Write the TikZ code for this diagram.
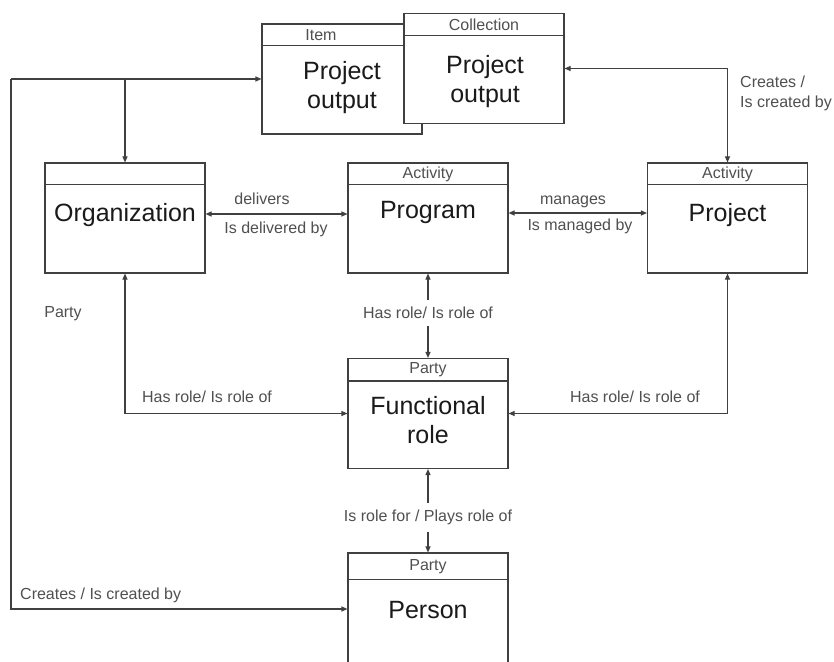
\documentclass[tikz,border=0pt]{standalone}
\usepackage{fontspec}
\setmainfont{Liberation Sans}
\usetikzlibrary{arrows.meta}
\definecolor{linec}{HTML}{404040}
\definecolor{smalltxt}{HTML}{505050}
\definecolor{bigtxt}{HTML}{1A1A1A}
\tikzset{
  box/.style={draw=linec, fill=white, line width=1.1bp, minimum width=160bp, minimum height=110bp, inner sep=0pt},
  hdr/.style={text=smalltxt, font=\fontsize{16bp}{19bp}\selectfont, inner sep=0pt},
  big/.style={text=bigtxt, font=\fontsize{25bp}{29bp}\selectfont, align=center, inner sep=0pt},
  lbl/.style={text=smalltxt, font=\fontsize{16bp}{20bp}\selectfont, inner sep=0pt},
  conn/.style={draw=linec, line width=1.1bp},
  tip/.style={-{Triangle[length=6bp,width=5bp]}},
  tips/.style={{Triangle[length=6bp,width=5bp]}-{Triangle[length=6bp,width=5bp]}},
  hline/.style={draw=linec, line width=1.1bp}
}
\begin{document}
\begin{tikzpicture}[x=1bp,y=-1bp]
\useasboundingbox (0,0) rectangle (834,662);
\fill[white] (0,0) rectangle (834,662);
\clip (0,0) rectangle (834,662);

% boxes
\node[box] (item) at (342,79) {};
\draw[hline] ([yshift=-22bp]item.north west) -- ([yshift=-22bp]item.north east);
\node[hdr] (itemh) at (321,35) {Item};
\node[big] (itemt) at (342,88) {Project\\output};

\node[box] (coll) at (484,68.5) {};
\draw[hline] ([yshift=-23bp]coll.north west) -- ([yshift=-23bp]coll.north east);
\node[hdr] (collh) at (484,24.5) {Collection};
\node[big] (collt) at (485,82) {Project\\output};

\node[box] (org) at (125,218) {};
\draw[hline] ([yshift=-22bp]org.north west) -- ([yshift=-22bp]org.north east);
\node[big] (orgt) at (125,215) {Organization};

\node[box] (prog) at (428,218) {};
\draw[hline] ([yshift=-22bp]prog.north west) -- ([yshift=-22bp]prog.north east);
\node[hdr] (progh) at (428,174) {Activity};
\node[big] (progt) at (428,212) {Program};

\node[box] (proj) at (727.5,218) {};
\draw[hline] ([yshift=-22bp]proj.north west) -- ([yshift=-22bp]proj.north east);
\node[hdr] (projh) at (727.5,174) {Activity};
\node[big] (projt) at (727.5,215) {Project};

\node[box] (fr) at (428,413.5) {};
\draw[hline] ([yshift=-23bp]fr.north west) -- ([yshift=-23bp]fr.north east);
\node[hdr] (frh) at (428,370) {Party};
\node[big] (frt) at (428,420) {Functional\\role};

\node[box, minimum height=150bp] (person) at (428,628) {};
\draw[hline] ([yshift=-27bp]person.north west) -- ([yshift=-27bp]person.north east);
\node[hdr] (personh) at (428,567) {Party};
\node[big] (persont) at (428,610) {Person};

% left loop connectors
\coordinate (tl) at (11,79);
\coordinate (bl) at (11,609);
\coordinate (br) at (125,79);
\draw[conn, tip] (tl) -- (item.west);
\draw[conn, tip] (br) -- (org.north);
\draw[conn, tip] (tl) -- (bl) -- (bl -| person.west);
\node[lbl, anchor=west] (lcreate) at (20,595) {Creates / Is created by};

% collection - project
\draw[conn, tips] (coll.east) -| (proj.north);
\node[lbl, anchor=west, align=left] (rcreate) at (740,93) {Creates /\\Is created by};

% org - program
\draw[conn, tips] (org.east |- 0,214) -- (prog.west |- 0,214);
\node[lbl] (deliv) at (262,199) {delivers};
\node[lbl] (delivby) at (276,229) {Is delivered by};

% program - project
\draw[conn, tips] (prog.east |- 0,213) -- (proj.west |- 0,213);
\node[lbl] (manag) at (573,202) {manages};
\node[lbl] (managby) at (580,226) {Is managed by};

% program - functional role
\draw[conn, tips] (prog.south) -- node[lbl, fill=white, inner ysep=7bp, pos=0.47] (hr1) {Has role/ Is role of} (fr.north);

% org - functional role
\draw[conn, tips] (org.south) |- (fr.west);
\node[lbl] (hr2) at (207,397) {Has role/ Is role of};

% project - functional role
\draw[conn, tips] (proj.south) |- (fr.east);
\node[lbl] (hr3) at (635,397) {Has role/ Is role of};

% functional role - person
\draw[conn, tips] (fr.south) -- node[lbl, fill=white, inner ysep=7bp, pos=0.58] (irf) {Is role for / Plays role of} (person.north);

\node[lbl] (party) at (63,314) {Party};
\end{tikzpicture}
\end{document}
